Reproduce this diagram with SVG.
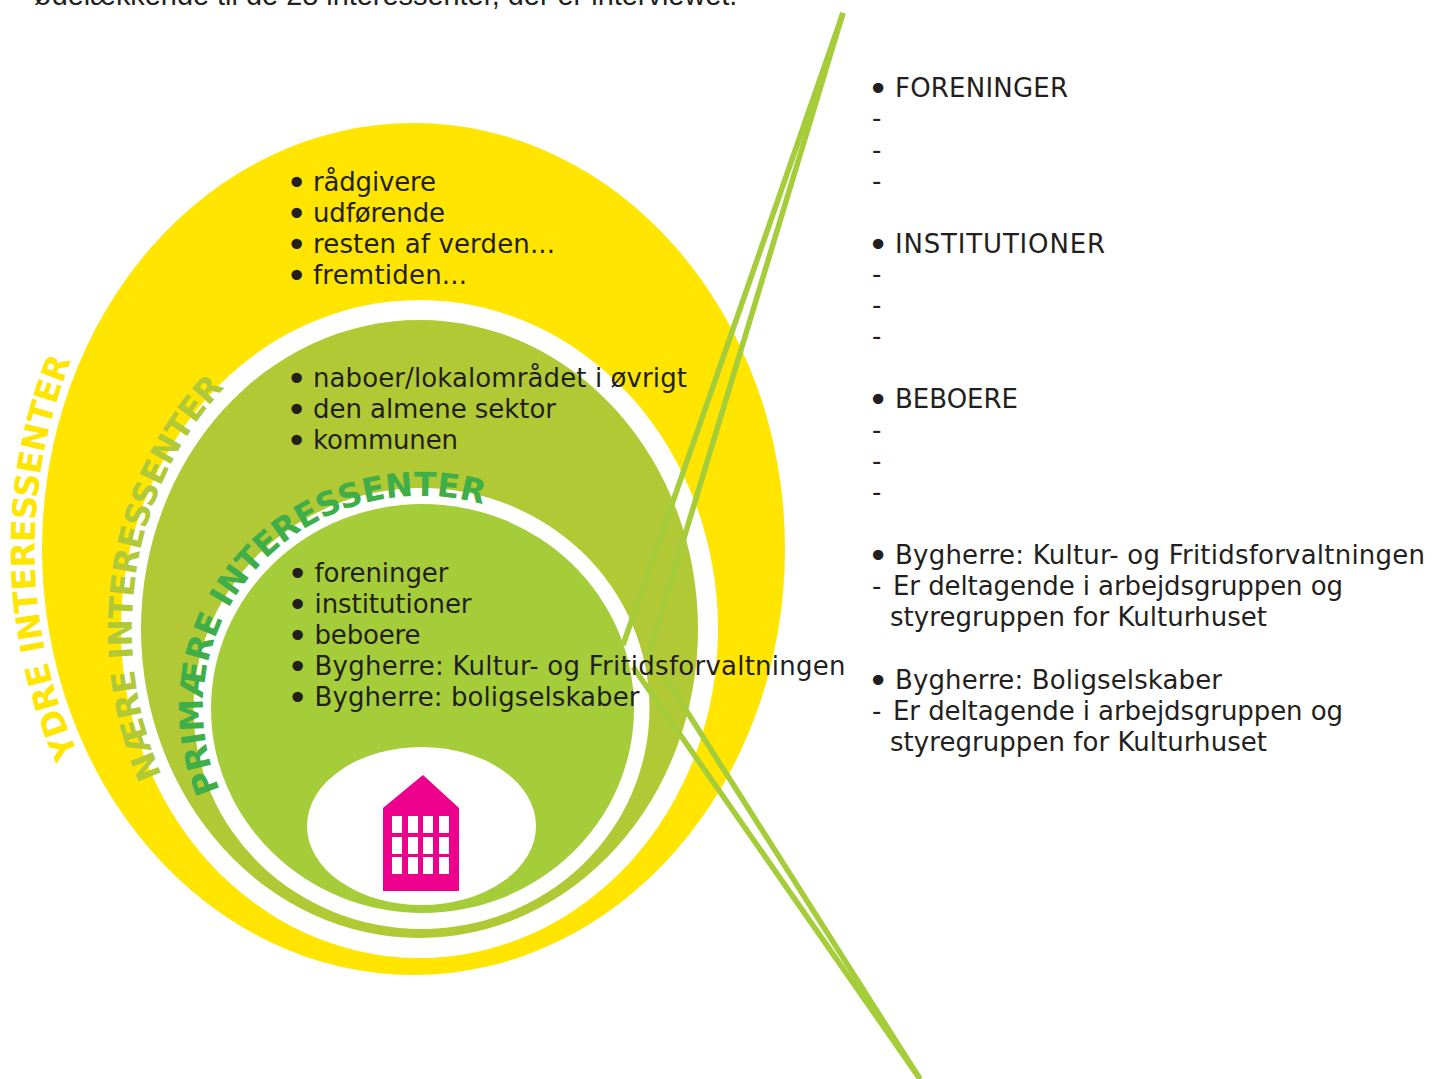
<svg xmlns="http://www.w3.org/2000/svg" width="1443" height="1079" viewBox="0 0 1443 1079">
<style>
text{font-family:"DejaVu Sans",Verdana,sans-serif;font-size:26px;fill:#231f20}
.top{font-family:"Liberation Sans",Arial,sans-serif;font-size:28.900px}
.b{font-size:36px;text-anchor:middle}
.arc{font-weight:bold;font-size:33px}
.conn{stroke:#a4cd39;stroke-width:5.5;fill:none}
</style>
<defs>
<path id="pY" d="M78.500,754 A378.500,440 0 0 1 85,330"/>
<path id="pN" d="M162,775 A287.500,328 0 0 1 255,360"/>
<path id="pP" d="M220,790 A218,212 0 0 1 520,519"/>
</defs>
<rect width="1443" height="1079" fill="#fff"/>
<g id="outer"><ellipse cx="413.500" cy="549" rx="371.500" ry="426" fill="#ffe500"/><ellipse cx="419.500" cy="629" rx="298.500" ry="329" fill="#fff"/></g>
<g id="near"><ellipse cx="419.500" cy="629" rx="278.500" ry="309" fill="#b1c935"/></g>
<g id="primary"><ellipse cx="421.500" cy="708.500" rx="228" ry="220.500" fill="#fff"/><ellipse cx="422.500" cy="708.500" rx="211.500" ry="204.500" fill="#a4cd39"/><ellipse cx="421.500" cy="826" rx="114.500" ry="79" fill="#fff"/></g>
<g id="building"><path d="M383,808 L423,775 L459,808 V891 H383Z" fill="#ec008c"/>
<g fill="#fff"><rect x="392" y="816" width="10" height="17"/><rect x="408" y="816" width="10" height="17"/><rect x="423" y="816" width="10" height="17"/><rect x="439" y="816" width="10" height="17"/><rect x="392" y="837" width="10" height="17"/><rect x="408" y="837" width="10" height="17"/><rect x="423" y="837" width="10" height="17"/><rect x="439" y="837" width="10" height="17"/><rect x="392" y="857" width="10" height="17"/><rect x="408" y="857" width="10" height="17"/><rect x="423" y="857" width="10" height="17"/><rect x="439" y="857" width="10" height="17"/></g></g>
<g id="connectors"><path class="conn" d="M843,13 L623,645"/><path class="conn" d="M843,13 L648,657"/><path class="conn" d="M633,667 L920,1079"/><path class="conn" d="M665,677 L920,1079"/></g>
<g id="labels">
<text class="arc" style="fill:#ffe500;letter-spacing:-0.35px"><textPath href="#pY">YDRE INTERESSENTER</textPath></text>
<text class="arc" style="fill:#b1c935;letter-spacing:-0.45px"><textPath href="#pN">NÆRE INTERESSENTER</textPath></text>
<text class="arc" style="fill:#3fae49;letter-spacing:-0.25px"><textPath href="#pP">PRIMÆRE INTERESSENTER</textPath></text>
</g>
<g id="texts">
<text class="top" x="34" y="5">ødelækkende til de 28 interessenter, der er interviewet.</text>
<text class="b" x="296.500" y="195">•</text><text x="313" y="191" textLength="123">rådgivere</text>
<text class="b" x="296.500" y="226">•</text><text x="313" y="222" textLength="132">udførende</text>
<text class="b" x="296.500" y="257">•</text><text x="313" y="253" textLength="242">resten af verden...</text>
<text class="b" x="296.500" y="288">•</text><text x="313" y="284" textLength="154">fremtiden...</text>
<text class="b" x="296.500" y="391">•</text><text x="313" y="387" textLength="374">naboer/lokalområdet i øvrigt</text>
<text class="b" x="296.500" y="422">•</text><text x="313" y="418" textLength="243">den almene sektor</text>
<text class="b" x="296.500" y="453">•</text><text x="313" y="449" textLength="145">kommunen</text>
<text class="b" x="297.500" y="586">•</text><text x="314.500" y="582" textLength="134">foreninger</text>
<text class="b" x="297.500" y="617">•</text><text x="314.500" y="613" textLength="157">institutioner</text>
<text class="b" x="297.500" y="648">•</text><text x="314.500" y="644" textLength="106">beboere</text>
<text class="b" x="297.500" y="679">•</text><text x="314.500" y="675" textLength="531">Bygherre: Kultur- og Fritidsforvaltningen</text>
<text class="b" x="297.500" y="710">•</text><text x="314.500" y="706" textLength="325">Bygherre: boligselskaber</text>
<text class="b" x="878" y="101">•</text><text x="895" y="97" textLength="173">FORENINGER</text><text x="872" y="127">-</text><text x="872" y="159">-</text><text x="872" y="190">-</text>
<text class="b" x="878" y="257">•</text><text x="895" y="253" textLength="210">INSTITUTIONER</text><text x="872" y="283">-</text><text x="872" y="314">-</text><text x="872" y="345">-</text>
<text class="b" x="878" y="412">•</text><text x="895" y="408" textLength="123">BEBOERE</text><text x="872" y="439">-</text><text x="872" y="470">-</text><text x="872" y="501">-</text>
<text class="b" x="878" y="568">•</text><text x="895" y="564" textLength="530">Bygherre: Kultur- og Fritidsforvaltningen</text><text x="872" y="595">-</text><text x="893" y="595" textLength="450">Er deltagende i arbejdsgruppen og</text><text x="890" y="626" textLength="377">styregruppen for Kulturhuset</text>
<text class="b" x="878" y="693">•</text><text x="895" y="689" textLength="327">Bygherre: Boligselskaber</text><text x="872" y="720">-</text><text x="893" y="720" textLength="450">Er deltagende i arbejdsgruppen og</text><text x="890" y="751" textLength="377">styregruppen for Kulturhuset</text>
</g>
</svg>
